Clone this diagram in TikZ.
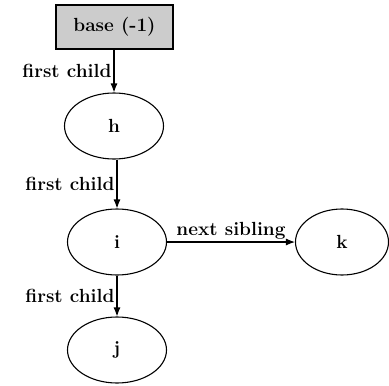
\documentclass[tikz,border=0pt]{standalone}
\usepackage{fontspec}
\usetikzlibrary{shapes.geometric,arrows.meta}
\tikzset{
  every node/.style={font=\bfseries\fontsize{19}{22}\selectfont},
  basebox/.style={draw, line width=1.1pt, fill=black!20, minimum width=117pt, minimum height=44pt, inner sep=0pt},
  elem/.style={draw, line width=1.1pt, ellipse, minimum width=99pt, minimum height=66pt, inner sep=0pt},
  link/.style={-{Latex[length=9pt,width=7pt]}, line width=1.1pt},
  lbl/.style={inner sep=2pt}
}
\begin{document}
\begin{tikzpicture}[x=1pt,y=1pt]
  \useasboundingbox (0,0) rectangle (389,-386);
  \node[basebox] (base) at (114.5,-27) {base (-1)};
  \node[elem] (h) at (114,-126) {h};
  \node[elem] (i) at (117,-242) {i};
  \node[elem] (j) at (117,-350) {j};
  \node[elem, minimum width=93pt] (k) at (342,-242) {k};
  \draw[link] (base.south -| h.north) -- (h.north)
    node[midway, left, lbl] {first child};
  \draw[link] (h.south -| i.north) -- (i.north)
    node[midway, left, lbl] {first child};
  \draw[link] (i.south) -- (j.north)
    node[midway, left, lbl] {first child};
  \draw[link] (i.east) -- (k.west)
    node[midway, above, lbl] {next sibling};
\end{tikzpicture}
\end{document}
